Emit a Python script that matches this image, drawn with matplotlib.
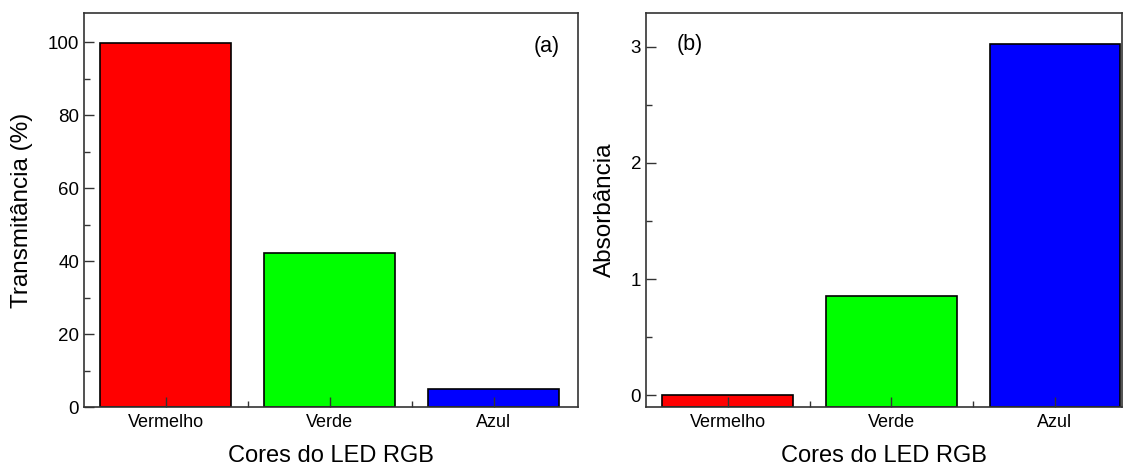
import matplotlib.pyplot as plt
import numpy as np

plt.rcParams['font.family'] = ['Liberation Sans', 'DejaVu Sans']

categories = ['Vermelho', 'Verde', 'Azul']
bar_colors = ['#ff0000', '#00ff00', '#0000ff']
transmitancia = [99.7, 42.3, 4.9]
absorbancia = [0.005, 0.853, 3.026]

x = np.arange(1, len(categories) + 1)

fig = plt.figure(figsize=(11.31, 4.67), dpi=100)
ax1 = fig.add_axes([84 / 1131, 60 / 467, 494 / 1131, 394 / 467])
ax2 = fig.add_axes([646 / 1131, 60 / 467, 476 / 1131, 394 / 467])


def style(ax):
    for s in ax.spines.values():
        s.set_color('#333333')
        s.set_linewidth(1.2)
    ax.set_xticks(x)
    ax.set_xticks(x[:-1] + 0.5, minor=True)
    ax.set_xticklabels(categories)
    ax.tick_params(axis='both', which='major', direction='in', length=7, width=1, color='#333333', labelsize=13.5)
    ax.tick_params(axis='both', which='minor', direction='in', length=4, width=1, color='#333333')
    ax.tick_params(axis='x', which='major', pad=5, labelsize=13)
    ax.set_xlabel('Cores do LED RGB', fontsize=17, va='center')
    ax.xaxis.set_label_coords(0.5, -0.125)


# (a) transmitancia
ax1.bar(x, transmitancia, width=0.8, color=bar_colors, edgecolor='black', linewidth=1.2, zorder=1)
ax1.set_yticks(np.arange(0, 101, 20))
ax1.set_yticks(np.arange(10, 101, 20), minor=True)
style(ax1)
ax1.set_xlim(0.5, 3.515)
ax1.set_ylim(0, 108)
ax1.set_ylabel('Transmitância (%)', fontsize=17.5, va='center')
ax1.yaxis.set_label_coords(-0.1255, 0.5)
ax1.text(0.937, 0.915, '(a)', transform=ax1.transAxes, fontsize=15.5, ha='center', va='center')

# (b) absorbancia
ylim_b = (-0.1, 3.29)
ax2.bar(x, np.array(absorbancia) - ylim_b[0], bottom=ylim_b[0], width=0.8, color=bar_colors,
        edgecolor='black', linewidth=1.2, zorder=1)
ax2.set_yticks([0, 1, 2, 3])
ax2.set_yticks([0.5, 1.5, 2.5], minor=True)
style(ax2)
ax2.set_xlim(0.5, 3.41)
ax2.set_ylim(*ylim_b)
ax2.set_ylabel('Absorbância', fontsize=17.5, va='center')
ax2.yaxis.set_label_coords(-0.086, 0.5)
ax2.text(0.092, 0.92, '(b)', transform=ax2.transAxes, fontsize=15.5, ha='center', va='center')

for ax in (ax1, ax2):
    for t in ax.xaxis.get_major_ticks() + ax.yaxis.get_major_ticks():
        t.tick1line.set_zorder(5)

plt.savefig('out.png', dpi=100)
plt.close()
